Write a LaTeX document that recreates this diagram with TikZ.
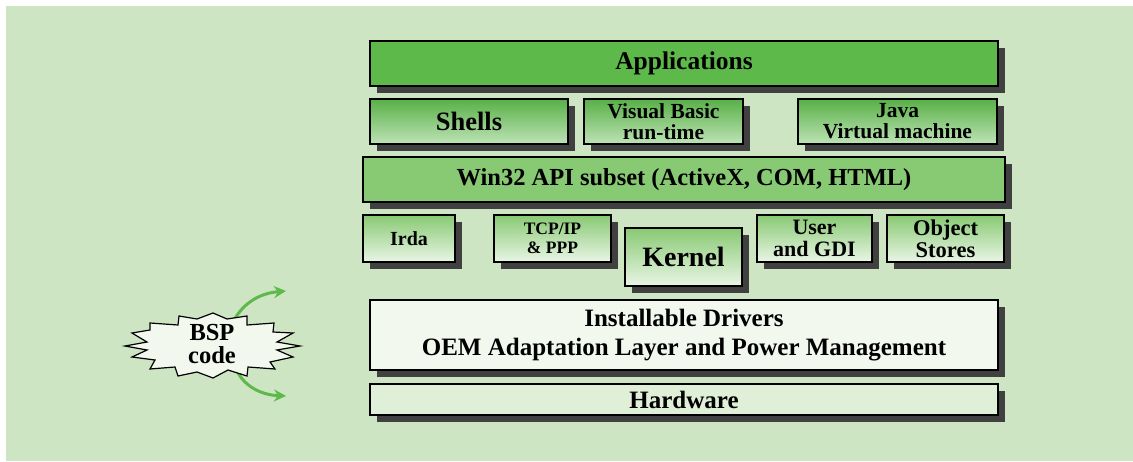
\documentclass[tikz,border=0pt]{standalone}
\usepackage{fontspec}
\setmainfont{Liberation Serif}
\usetikzlibrary{shadows,arrows.meta}
\definecolor{bgc}{HTML}{CEE5C3}
\definecolor{appc}{HTML}{5DB94A}
\definecolor{winc}{HTML}{88C973}
\definecolor{drvc}{HTML}{F2F8EE}
\definecolor{hwc}{HTML}{E0EFD8}
\definecolor{shc}{HTML}{404040}
\definecolor{arrc}{HTML}{5DB94A}
\tikzset{
  layer/.style={draw=black, line width=1.2pt, inner sep=0pt, align=center,
    font=\bfseries, text=black,
    drop shadow={shadow xshift=7pt, shadow yshift=-7pt, fill=shc, opacity=1}},
  darkgrad/.style={layer, top color=appc!95!black, bottom color=appc!40!white},
  lightgrad/.style={layer, top color=winc, bottom color=winc!18!white},
  bsparrow/.style={draw=arrc, line width=3pt, -{Stealth[length=12pt,width=12pt]}},
}
\begin{document}
\begin{tikzpicture}[x=1pt,y=-1pt]
\useasboundingbox (0,0) rectangle (1133,461);
\fill[white] (0,0) rectangle (1133,461);
\fill[bgc] (6,6) rectangle (1133,461);

\node[layer, fill=appc, minimum width=628pt, minimum height=45pt, font=\bfseries\fontsize{25.5}{28}\selectfont] (app) at (684,63.5) {Applications};

\node[darkgrad, minimum width=198pt, minimum height=45pt, font=\bfseries\fontsize{26.5}{28}\selectfont] (shells) at (469,121.5) {Shells};
\node[darkgrad, minimum width=159pt, minimum height=45pt, font=\bfseries\fontsize{21.5}{21}\selectfont] (vb) at (663.5,121.5) {Visual Basic\\run-time};
\node[darkgrad, minimum width=199pt, minimum height=45pt, font=\bfseries\fontsize{21.5}{21}\selectfont] (java) at (897.5,121.5) {Java\\Virtual machine};

\node[layer, fill=winc, minimum width=642pt, minimum height=45pt, font=\bfseries\fontsize{24.5}{28}\selectfont] (win) at (684,179.5) {Win32 API subset (ActiveX, COM, HTML)};

\node[lightgrad, minimum width=92pt, minimum height=47pt, font=\bfseries\fontsize{20}{22}\selectfont] (irda) at (409,238.5) {Irda};
\node[lightgrad, minimum width=117pt, minimum height=47pt, font=\bfseries\fontsize{17.5}{19}\selectfont] (tcp) at (552.5,238.5) {TCP/IP\\\& PPP};
\node[lightgrad, minimum width=117pt, minimum height=58pt, font=\bfseries\fontsize{28}{30}\selectfont] (kernel) at (683.5,257) {Kernel};
\node[lightgrad, minimum width=115pt, minimum height=47pt, font=\bfseries\fontsize{22}{22}\selectfont] (gdi) at (814.5,238.5) {User\\and GDI};
\node[lightgrad, minimum width=117pt, minimum height=47pt, font=\bfseries\fontsize{22.5}{22}\selectfont] (obj) at (945.5,238.5) {Object\\Stores};

\node[layer, fill=drvc, minimum width=628pt, minimum height=70pt, font=\bfseries\fontsize{25}{29}\selectfont] (drv) at (684,335) {Installable Drivers\\OEM Adaptation Layer and Power Management};
\node[layer, fill=hwc, minimum width=628pt, minimum height=31pt, font=\bfseries\fontsize{25}{28}\selectfont] (hw) at (684,399.5) {Hardware};

\coordinate (up) at (286,291);
\coordinate (dn) at (286,396);
\draw[bsparrow] (233,322) .. controls (244,301) and (262,293) .. (up);
\draw[bsparrow] (237,371) .. controls (245,387) and (262,395) .. (dn);

\draw[black, line width=1.2pt, fill=drvc, line join=miter]
  (125,346) -- (147,342) -- (132,333) -- (150,330) -- (150,323) -- (178,325)
  -- (179,316) -- (197,319) -- (213,313) -- (227,319) -- (247,316) -- (247,325)
  -- (274,323) -- (273,332) -- (293,333) -- (277,342) -- (300,346) -- (277,350)
  -- (293,357) -- (270,362) -- (275,369) -- (248,367) -- (247,376) -- (228,370)
  -- (213,378) -- (197,372) -- (178,376) -- (175,367) -- (150,369) -- (155,360)
  -- (132,357) -- (147,350) -- cycle;
\node[inner sep=0pt, align=center, font=\bfseries\fontsize{24.5}{23}\selectfont] (bsp) at (212,344) {BSP\\code};
\end{tikzpicture}
\end{document}
